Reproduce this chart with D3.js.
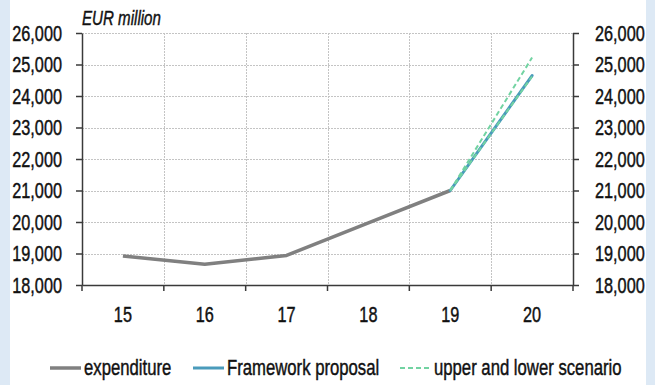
<!DOCTYPE html>
<html>
<head>
<meta charset="utf-8">
<script src="https://cdn.jsdelivr.net/npm/d3@7"></script>
<style>
  html, body { margin: 0; padding: 0; background: #ffffff; }
  svg { display: block; }
  text { font-family: "Liberation Sans", Arial, sans-serif; fill: #111; stroke: #111; stroke-width: 0.45px; }
</style>
</head>
<body>
<svg id="chart" width="659" height="385"></svg>
<script>
// Years (two-digit) on the category axis
const years = ["15", "16", "17", "18", "19", "20"];
// Series values, EUR million
const expenditure   = [18920, 18660, 18940, 19970, 21000, null];
const framework     = [null, null, null, null, 21000, 24650];
const upperScenario = [null, null, null, null, 21000, 25220];
const lowerScenario = [null, null, null, null, 21000, 24620];
// Value axis ticks
const yTicks = [18000, 19000, 20000, 21000, 22000, 23000, 24000, 25000, 26000];
const unitLabel = "EUR million";
const legendItems = [
  { label: "expenditure", color: "#808080", width: 3.5, dash: null },
  { label: "Framework proposal", color: "#4a9bbb", width: 3, dash: null },
  { label: "upper and lower scenario", color: "#72d3a2", width: 2, dash: "5,3" }
];

const svg = d3.select("#chart");
const W = 659, H = 385;
const plotLeft = 82, plotRight = 573, plotTop = 33, plotBottom = 285;
const fontSize = 22;

// narrow the glyphs horizontally about each text's anchor point
function condense(sel, factor = 0.74) {
  sel.each(function () {
    const x0 = +(this.getAttribute("x") || 0);
    d3.select(this).attr("transform", `translate(${x0},0) scale(${factor},1) translate(${-x0},0)`);
  });
}

// side panels
svg.append("rect").attr("x", 0).attr("y", 0).attr("width", 10).attr("height", H).attr("fill", "#dde9f5");
svg.append("rect").attr("x", 646).attr("y", 0).attr("width", 9).attr("height", H).attr("fill", "#dde9f5");

const x = d3.scaleBand().domain(years).range([plotLeft, plotRight]).padding(0);
const y = d3.scaleLinear().domain([18000, 26000]).range([plotBottom, plotTop]);
const cx = d => x(d) + x.bandwidth() / 2;

// grid
const grid = svg.append("g").attr("stroke", "#c4c4c4").attr("stroke-width", 1).attr("stroke-dasharray", "2,1");
grid.selectAll("line.h").data(yTicks.filter(v => v > 18000)).join("line")
  .attr("x1", plotLeft).attr("x2", plotRight)
  .attr("y1", d => Math.round(y(d)) + 0.5).attr("y2", d => Math.round(y(d)) + 0.5);
grid.selectAll("line.v").data(years.slice(1)).join("line")
  .attr("x1", d => Math.round(x(d)) + 0.5).attr("x2", d => Math.round(x(d)) + 0.5)
  .attr("y1", plotTop).attr("y2", plotBottom);

// axes
const axisColor = "#3a3a3a";
function styleAxis(g) {
  g.select(".domain").attr("stroke", axisColor).attr("stroke-width", 1.5);
  g.selectAll(".tick line").attr("stroke", axisColor).attr("stroke-width", 1.5);
  g.selectAll("text").attr("font-size", fontSize).attr("font-family", null).attr("fill", "#111").call(condense);
}

svg.append("g").attr("transform", `translate(${plotLeft},0)`)
  .call(d3.axisLeft(y).tickValues(yTicks).tickFormat(d3.format(",")).tickSize(6).tickSizeOuter(0).tickPadding(14))
  .call(styleAxis);

svg.append("g").attr("transform", `translate(${plotRight},0)`)
  .call(d3.axisRight(y).tickValues(yTicks).tickFormat(d3.format(",")).tickSize(6).tickSizeOuter(0).tickPadding(16))
  .call(styleAxis);

const xAxis = svg.append("g").attr("transform", `translate(0,${plotBottom})`)
  .call(d3.axisBottom(x).tickSize(0).tickSizeOuter(0).tickPadding(21))
  .call(styleAxis);
// boundary tick marks between categories
xAxis.selectAll("line.bound").data(years.map(d => x(d)).concat([plotRight])).join("line")
  .attr("class", "bound")
  .attr("x1", d => d).attr("x2", d => d).attr("y1", 0).attr("y2", 6)
  .attr("stroke", axisColor).attr("stroke-width", 1.5);

// unit label
svg.append("text").attr("x", plotLeft).attr("y", 25)
  .attr("font-size", 21).attr("font-style", "italic").text(unitLabel).call(condense, 0.72);

// series
const line = d3.line().defined(d => d.v != null).x(d => cx(d.k)).y(d => y(d.v));
const toPts = arr => years.map((k, i) => ({ k, v: arr[i] }));

svg.append("path").datum(toPts(expenditure)).attr("d", line)
  .attr("fill", "none").attr("stroke", legendItems[0].color).attr("stroke-width", legendItems[0].width)
  .attr("stroke-linejoin", "round");
svg.append("path").datum(toPts(framework)).attr("d", line)
  .attr("fill", "none").attr("stroke", legendItems[1].color).attr("stroke-width", legendItems[1].width)
  .attr("stroke-linecap", "round");
[upperScenario, lowerScenario].forEach(s => {
  svg.append("path").datum(toPts(s)).attr("d", line)
    .attr("fill", "none").attr("stroke", legendItems[2].color).attr("stroke-width", legendItems[2].width)
    .attr("stroke-dasharray", legendItems[2].dash);
});

// legend
const legendPos = [50, 193, 400];
const legendY = 368;
legendItems.forEach((it, i) => {
  const g = svg.append("g").attr("transform", `translate(${legendPos[i]},${legendY})`);
  g.append("line").attr("x1", 0).attr("x2", 31).attr("y1", 0).attr("y2", 0)
    .attr("stroke", it.color).attr("stroke-width", it.width).attr("stroke-dasharray", it.dash);
  g.append("text").attr("x", 34).attr("y", 7).attr("font-size", fontSize).text(it.label).call(condense, 0.76);
});
</script>
</body>
</html>
